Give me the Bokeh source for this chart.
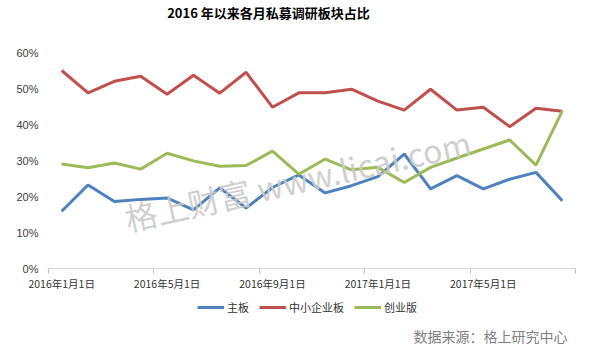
from bokeh.plotting import figure
from bokeh.models import (FixedTicker, PrintfTickFormatter, Range1d, Label, Legend, LegendItem)
from bokeh.embed import file_html
from bokeh.resources import INLINE

months = ["2016-01", "2016-02", "2016-03", "2016-04", "2016-05", "2016-06", "2016-07",
          "2016-08", "2016-09", "2016-10", "2016-11", "2016-12", "2017-01", "2017-02",
          "2017-03", "2017-04", "2017-05", "2017-06", "2017-07", "2017-08"]
main_board = [15.9, 23.2, 18.6, 19.2, 19.6, 16.3, 22.4, 16.8, 22.5, 26.0,
              21.0, 23.0, 25.5, 31.8, 22.1, 25.8, 22.1, 24.8, 26.7, 18.8]
sme_board = [55.0, 48.8, 52.0, 53.4, 48.4, 53.7, 48.7, 54.5, 44.8, 48.8,
             48.8, 49.8, 46.5, 44.0, 49.8, 44.0, 44.8, 39.4, 44.5, 43.7]
gem_board = [29.0, 28.0, 29.3, 27.6, 32.0, 29.9, 28.4, 28.6, 32.6, 26.2,
             30.4, 27.4, 28.1, 23.9, 28.1, 30.7, 33.2, 35.7, 28.7, 43.8]
series_names = ["主板", "中小企业板", "创业版"]
tick_idx = [0, 4, 8, 12, 16]
tick_labels = ["2016年1月1日", "2016年5月1日", "2016年9月1日", "2017年1月1日", "2017年5月1日"]
y_ticks = [0, 10, 20, 30, 40, 50, 60]

x = list(range(len(months)))
n = len(months)
colors = ["#4F81BD", "#C0504D", "#9BBB59"]
CJK = "Noto Sans CJK SC"

# layout constants (pixels): canvas 578x345, data area 48..575 x 52..268
W, H = 578, 345
PLOT_L, PLOT_R, PLOT_T, PLOT_B = 48, 575, 52, 268
ppx = (PLOT_R - PLOT_L) / n
ppy = (PLOT_B - PLOT_T) / 60.0
x0 = -0.5 - PLOT_L / ppx
x1 = n - 0.5 + (W - PLOT_R) / ppx
y1 = 60 + PLOT_T / ppy
y0 = -(H - PLOT_B) / ppy

p = figure(frame_width=W, frame_height=H, output_backend="svg", toolbar_location=None,
           x_range=Range1d(x0, x1), y_range=Range1d(y0, y1))
p.min_border_left = 0
p.min_border_right = 0
p.min_border_top = 0
p.min_border_bottom = 0
p.outline_line_color = None
p.grid.grid_line_color = None

xa = p.xaxis[0]
xa.fixed_location = 0
xa.bounds = (-0.5, n - 0.5)
xa.ticker = FixedTicker(ticks=tick_idx, minor_ticks=[i - 0.5 for i in range(0, n + 1, 4)])
xa.major_label_overrides = {i: t for i, t in zip(tick_idx, tick_labels)}
xa.major_tick_line_color = None
xa.major_tick_out = 0
xa.major_tick_in = 0
xa.minor_tick_line_color = "#BFBFBF"
xa.minor_tick_in = 0
xa.minor_tick_out = 5
xa.axis_line_color = "#D9D9D9"
xa.major_label_text_font = CJK
xa.major_label_text_font_size = "10.5px"
xa.major_label_text_color = "#333333"
xa.major_label_standoff = 2

ya = p.yaxis[0]
ya.fixed_location = -0.5
ya.bounds = (0, 60)
ya.ticker = FixedTicker(ticks=y_ticks)
ya.formatter = PrintfTickFormatter(format="%d%%")
ya.axis_line_color = None
ya.major_tick_line_color = None
ya.major_tick_out = 0
ya.major_tick_in = 0
ya.minor_tick_line_color = None
ya.major_label_text_font = "Liberation Sans"
ya.major_label_text_font_size = "11px"
ya.major_label_text_color = "#404040"
ya.major_label_standoff = 10

wm = Label(x=2.6, y=7.8, text="格上财富  www.licai.com", angle=0.22,
           text_font=CJK, text_font_size="32px", text_color="#CACACA",
           text_alpha=0.9, text_align="left", text_baseline="bottom")
p.add_layout(wm)

renderers = []
for vals, c in zip([main_board, sme_board, gem_board], colors):
    r = p.line(x, vals, line_color=c, line_width=3)
    renderers.append(r)

legend = Legend(items=[LegendItem(label=s, renderers=[r]) for s, r in zip(series_names, renderers)],
                location=(197, 30), orientation="horizontal",
                label_text_font=CJK, label_text_font_size="11px", label_text_color="#333333",
                glyph_width=27, glyph_height=14, label_standoff=3, spacing=10,
                padding=0, margin=0, border_line_color=None, background_fill_alpha=0,
                label_height=14)
p.add_layout(legend)

title = Label(x=268, y=H - 12, x_units="screen", y_units="screen",
              text="2016 年以来各月私募调研板块占比",
              text_font=CJK, text_font_size="13px", text_font_style="bold",
              text_color="#000000", text_align="center", text_baseline="middle")
p.add_layout(title)

src = Label(x=413, y=10, x_units="screen", y_units="screen", text="数据来源：格上研究中心",
            text_font=CJK, text_font_size="14px", text_color="#808080",
            text_align="left", text_baseline="middle")
p.add_layout(src)

open("out.html", "w").write(file_html(p, INLINE))
